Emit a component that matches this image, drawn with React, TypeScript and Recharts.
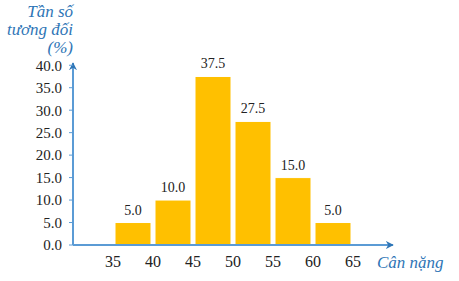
import React from 'react';
import { BarChart, Bar, XAxis, YAxis, LabelList } from 'recharts';

const binMids = [37.5, 42.5, 47.5, 52.5, 57.5, 62.5];
const relFreq = [5.0, 10.0, 37.5, 27.5, 15.0, 5.0];
const xTicks = [35, 40, 45, 50, 55, 60, 65];
const yTicks = [0, 5, 10, 15, 20, 25, 30, 35, 40];

const data = binMids.map((m, i) => ({ mid: m, value: relFreq[i] }));

const AXIS = '#5b9bd5';
const ARROW = '#2e75b6';
const FONT = 'Liberation Serif';

export default function App() {
  return (
    <div style={{ position: 'absolute', left: 0, top: 0, width: 459, height: 281, background: '#fff', fontFamily: FONT }}>
      <BarChart width={459} height={281} data={data} margin={{ top: 63, right: 66, bottom: 6, left: 0 }} style={{ fontFamily: FONT }}>
        <defs>
          <marker id="arrowY" viewBox="0 0 10 10" refX="9" refY="5" markerWidth="8" markerHeight="8" orient="auto-start-reverse" markerUnits="userSpaceOnUse">
            <path d="M0,0 L10,5 L0,10 L3,5 z" fill={ARROW} />
          </marker>
        </defs>
        <XAxis
          dataKey="mid"
          type="number"
          domain={[30, 70]}
          ticks={xTicks}
          tickLine={false}
          tickMargin={5}
          axisLine={{ stroke: AXIS, strokeWidth: 2, markerEnd: 'url(#arrowY)' }}
          tick={{ fill: '#222', fontSize: 16, fontFamily: FONT }}
          interval={0}
        />
        <YAxis
          type="number"
          domain={[0, 40.5]}
          ticks={yTicks}
          width={73}
          tickSize={4}
          tickMargin={7}
          tickLine={{ stroke: AXIS }}
          axisLine={{ stroke: AXIS, strokeWidth: 2, markerStart: 'url(#arrowY)' }}
          tickFormatter={(v: number) => v.toFixed(1)}
          tick={{ fill: '#222', fontSize: 15, fontFamily: FONT }}
          interval={0}
        />
        <Bar dataKey="value" fill="#ffc000" stroke="#ffffff" strokeWidth={1} barSize={40} isAnimationActive={false}>
          <LabelList
            dataKey="value"
            position="top"
            offset={8}
            formatter={(v: number) => v.toFixed(1)}
            fill="#222"
            fontSize={14}
            fontFamily={FONT}
          />
        </Bar>
        <text x={73} y={17} textAnchor="end" fill={ARROW} fontSize={17} fontStyle="italic" fontFamily={FONT}>Tần số</text>
        <text x={73} y={35} textAnchor="end" fill={ARROW} fontSize={17} fontStyle="italic" fontFamily={FONT}>tương đối</text>
        <text x={73} y={53} textAnchor="end" fill={ARROW} fontSize={17} fontStyle="italic" fontFamily={FONT}>(%)</text>
        <text x={377} y={268} textAnchor="start" fill={ARROW} fontSize={17} fontStyle="italic" fontFamily={FONT}>Cân nặng</text>
      </BarChart>
    </div>
  );
}
